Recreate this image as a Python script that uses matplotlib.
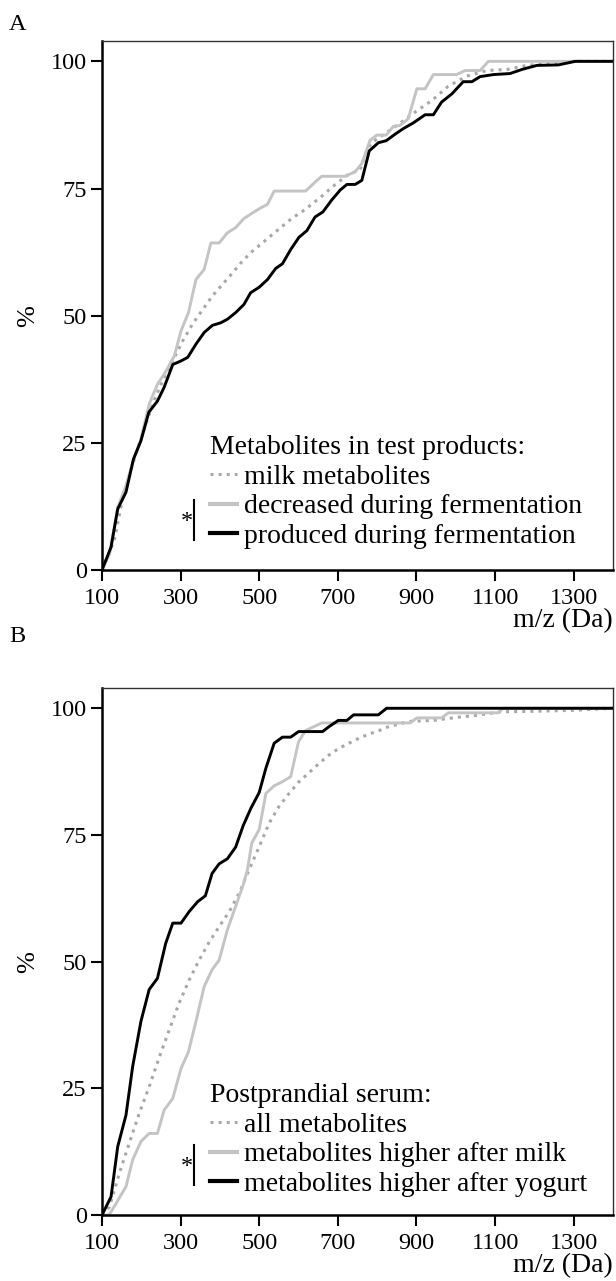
import matplotlib
matplotlib.use("Agg")
import matplotlib.pyplot as plt
from matplotlib.lines import Line2D

plt.rcParams["font.family"] = ["Liberation Serif", "DejaVu Serif"]
FS = 17.5      # tick labels
FS_LEG = 20    # legend, axis titles

# Panel A: metabolites in test products (cumulative %, by m/z)
a_milk_mz = [100, 131, 153, 178, 203, 229, 254, 280, 305, 330, 356, 381, 407, 432, 457, 483, 508,
             534, 559, 584, 610, 635, 661, 689, 729, 756, 774, 786, 854, 896, 939, 981, 1028,
             1079, 1130, 1181, 1248, 1300, 1400]
a_milk_pct = [0, 5.8, 14.3, 20.8, 26.7, 32.6, 37.2, 41.1, 45, 48.3, 51.2, 53.9, 56.2, 58.4, 60.7,
              62.7, 64.3, 66, 67.6, 69.2, 70.5, 72, 73.6, 75.5, 77.9, 78.6, 82.5, 84, 87.6, 90,
              92.3, 95.1, 97.1, 98.2, 98.4, 99.2, 99.7, 100, 100]
a_dec_mz = [100, 119, 140, 161, 182, 199, 220, 241, 263, 284, 301, 320, 339, 360, 377, 398, 419,
            440, 461, 483, 504, 521, 538, 618, 644, 659, 718, 744, 761, 782, 799, 823, 841, 858,
            879, 901, 922, 943, 1002, 1024, 1062, 1083, 1400]
a_dec_pct = [0, 3.1, 12.3, 16.6, 22.1, 25.7, 32.6, 36.5, 39.1, 42.1, 47, 50.6, 57.1, 59.1, 64.3,
             64.3, 66.3, 67.3, 69.1, 70.2, 71.2, 71.9, 74.5, 74.5, 76.4, 77.4, 77.4, 78.3, 79.9,
             84.5, 85.5, 85.5, 87.2, 87.4, 88.7, 94.6, 94.6, 97.4, 97.4, 98.2, 98.2, 100, 100]
a_prod_mz = [100, 123, 140, 161, 180, 199, 219, 241, 258, 280, 301, 318, 339, 360, 381, 402, 419,
             440, 461, 478, 500, 521, 542, 559, 580, 601, 621, 642, 662, 684, 706, 723, 744, 761,
             780, 803, 823, 846, 867, 892, 922, 943, 964, 990, 1019, 1041, 1062, 1096, 1138,
             1168, 1206, 1261, 1304, 1400]
a_prod_pct = [0, 4.5, 12, 15.3, 21.8, 25.4, 31, 33.2, 35.9, 40.4, 41.1, 41.8, 44.4, 46.7, 48.1,
              48.6, 49.3, 50.6, 52.2, 54.5, 55.6, 57.1, 59.3, 60.2, 63, 65.4, 66.7, 69.4, 70.4,
              72.7, 74.7, 75.8, 75.8, 76.6, 82.4, 84, 84.4, 85.7, 86.8, 87.9, 89.5, 89.5, 92,
              93.6, 96, 96, 97, 97.4, 97.6, 98.4, 99.2, 99.3, 100, 100]

# Panel B: postprandial serum
b_all_mz = [100, 119, 144, 169, 195, 220, 246, 271, 296, 322, 347, 373, 398, 424, 449, 474, 500,
            525, 550, 576, 601, 627, 652, 678, 703, 728, 754, 779, 805, 830, 856, 881, 943, 1002,
            1053, 1113, 1197, 1299, 1400]
b_all_pct = [0, 1.6, 8.2, 14.1, 20.1, 25.3, 31.2, 36.5, 41.8, 46.4, 50.3, 53.9, 56.9, 59.9, 63.5,
             68.1, 72.7, 77.3, 80.6, 83.2, 85.5, 87.3, 89.1, 90.8, 92.1, 93.1, 94.1, 94.9, 95.6,
             96.4, 96.9, 97.4, 97.6, 98.2, 98.6, 99.3, 99.4, 99.6, 100]
b_milk_mz = [100, 118, 136, 161, 178, 199, 220, 241, 258, 280, 301, 320, 339, 360, 380, 398, 419,
             440, 459, 470, 481, 500, 517, 538, 559, 580, 600, 618, 659, 884, 901, 964, 981, 1108,
             1120, 1400]
b_milk_pct = [0, 0, 2.3, 5.6, 10.9, 14.5, 16.1, 16.1, 20.7, 23, 28.9, 32.2, 38.2, 45.1, 48.4, 50.3,
              56.3, 60.9, 65.1, 68.1, 73.4, 76.1, 83.2, 84.7, 85.5, 86.5, 93.4, 95.6, 97.1, 97.1,
              98.1, 98.1, 99.1, 99.1, 100, 100]
b_yog_mz = [100, 123, 140, 161, 178, 199, 220, 241, 262, 280, 301, 322, 343, 363, 380, 398, 419,
            440, 459, 479, 500, 517, 538, 559, 580, 600, 661, 678, 701, 723, 740, 803, 824, 1400]
b_yog_pct = [0, 3.6, 13.5, 19.7, 29.3, 38.2, 44.5, 46.7, 53.6, 57.6, 57.6, 59.9, 61.8, 63, 67.4,
             69.3, 70.3, 72.6, 76.8, 80.3, 83.4, 88.2, 93.1, 94.3, 94.3, 95.4, 95.4, 96.4, 97.6,
             97.6, 98.7, 98.7, 100, 100]

x_ticks = [100, 300, 500, 700, 900, 1100, 1300]
y_ticks = [0, 25, 50, 75, 100]

DOT_C = "#a8a8a8"
GRAY_C = "#c4c4c4"
BLACK_C = "#000000"

W, H = 616, 1281
fig = plt.figure(figsize=(W / 100, H / 100), dpi=100)


def make_axes(top_px, bottom_px):
    return fig.add_axes([102 / W, 1 - bottom_px / H, 511 / W, (bottom_px - top_px) / H])


def draw_panel(ax, dot, gray, black, title, labels, leg_y):
    ax.plot(dot[0], dot[1], color=DOT_C, lw=2.2, ls=":")
    ax.plot(gray[0], gray[1], color=GRAY_C, lw=2.1)
    ax.plot(black[0], black[1], color=BLACK_C, lw=2.1)
    ax.set_xlim(100, 1400)
    ax.set_ylim(0, 104)
    ax.set_xticks(x_ticks)
    ax.set_yticks(y_ticks)
    ax.tick_params(labelsize=FS, length=8, width=1.5, direction="out")
    ax.tick_params(axis="x", pad=5)
    ax.tick_params(axis="y", pad=3)
    for s in ["left", "bottom"]:
        ax.spines[s].set_linewidth(1.8)
    for s in ["top", "right"]:
        ax.spines[s].set_linewidth(1.0)
        ax.spines[s].set_color("#333333")

    handles = [
        Line2D([], [], color=DOT_C, lw=2.2, ls=":"),
        Line2D([], [], color=GRAY_C, lw=3),
        Line2D([], [], color=BLACK_C, lw=3),
    ]
    ax.legend(handles, labels, title=title, loc="lower left",
              bbox_to_anchor=(0.212, leg_y), frameon=False, fontsize=FS_LEG,
              title_fontsize=FS_LEG, handlelength=0.95, handletextpad=0.25,
              labelspacing=0.15, borderpad=0, borderaxespad=0, alignment="left")
    # significance bracket between the two solid lines
    ax.plot([0.181, 0.181], [0.057, 0.133], color="black", lw=1.5,
            transform=ax.transAxes, clip_on=False)
    ax.text(0.166, 0.092, "*", fontsize=FS, ha="center", va="center", transform=ax.transAxes)


axA = make_axes(41, 570)
draw_panel(axA, (a_milk_mz, a_milk_pct), (a_dec_mz, a_dec_pct), (a_prod_mz, a_prod_pct),
           "Metabolites in test products:",
           ["milk metabolites", "decreased during fermentation", "produced during fermentation"],
           0.040)

axB = make_axes(688, 1215)
draw_panel(axB, (b_all_mz, b_all_pct), (b_milk_mz, b_milk_pct), (b_yog_mz, b_yog_pct),
           "Postprandial serum:",
           ["all metabolites", "metabolites higher after milk", "metabolites higher after yogurt"],
           0.034)

# axis titles and panel letters
for y_pct, y_lab, letter_y, letter in [(316, 621, 24, "A"), (962, 1266, 636, "B")]:
    fig.text(28 / W, 1 - y_pct / H, "%", rotation=90, ha="center", va="center", fontsize=19)
    fig.text(613 / W, 1 - y_lab / H, "m/z (Da)", ha="right", va="center", fontsize=FS_LEG)
    fig.text(9 / W, 1 - letter_y / H, letter, ha="left", va="center", fontsize=FS)

fig.savefig("out.png", dpi=100)
